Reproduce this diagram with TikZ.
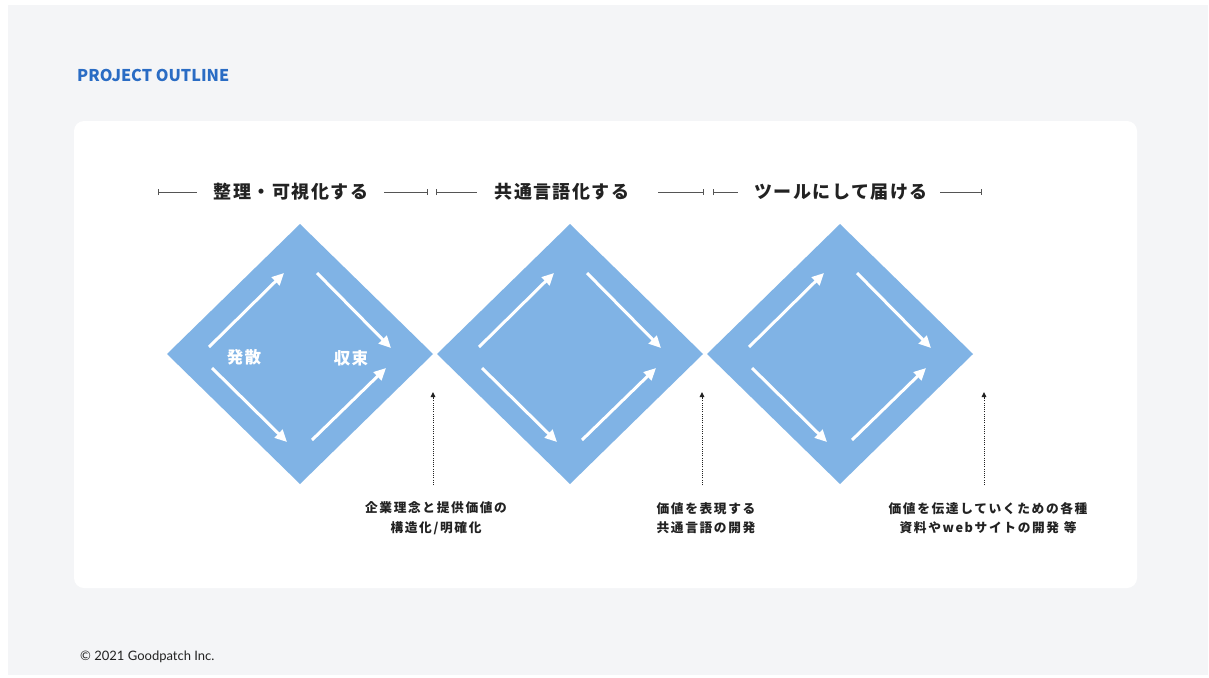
\documentclass[tikz,border=0pt]{standalone}
\usepackage{fontspec}
\setmainfont{Noto Sans CJK JP}
\newfontfamily\jp{Noto Sans CJK JP}
\newfontfamily\footfont{Lato}
\usetikzlibrary{arrows.meta}
\definecolor{bggray}{HTML}{F4F5F7}
\definecolor{dia}{HTML}{80B3E5}
\definecolor{ttl}{HTML}{2A6CC4}
\definecolor{ink}{HTML}{222222}
\definecolor{rulegray}{HTML}{555555}
\begin{document}
\begin{tikzpicture}[x=1pt,y=-1pt,
  flow/.style={draw=white, line width=3pt, -{Triangle[length=12pt,width=11pt]}},
  headtext/.style={font=\jp\bfseries\fontsize{18}{20}\selectfont\addfontfeature{LetterSpace=8}, text=ink, inner sep=0pt},
  phasetext/.style={font=\jp\bfseries\fontsize{16.5}{18}\selectfont\addfontfeature{LetterSpace=8}, text=white, inner sep=0pt},
  notetext/.style={font=\jp\bfseries\fontsize{12.7}{19.5}\selectfont\addfontfeature{LetterSpace=13}, text=ink, inner sep=0pt, align=center},
  halfbar/.style={draw=rulegray, line width=1pt},
  pointer/.style={draw=ink, line width=1pt, dash pattern=on 1pt off 1.2pt, -{Triangle[length=5pt,width=4.5pt]}}
]
\useasboundingbox (0,0) rectangle (1209,677);
\fill[white] (0,0) rectangle (1209,677);
\fill[bggray] (8,5) rectangle (1208,675);
% card
\fill[white, rounded corners=10pt] (74,121) rectangle (1137,588);
% title
\node[anchor=west, inner sep=0pt, text=ttl, font=\jp\bfseries\fontsize{16.2}{18}\selectfont] (title) at (77,75) {PROJECT OUTLINE};
% diamonds and arrows
\foreach \cx/\n in {300/1,570/2,840/3}{
  \fill[dia] (\cx-133,354) -- (\cx,224) -- (\cx+133,354) -- (\cx,484) -- cycle;
  \coordinate (a\n s) at (\cx-91,347); \coordinate (a\n e) at (\cx-16,273);
  \coordinate (b\n s) at (\cx+17,273); \coordinate (b\n e) at (\cx+91,348);
  \coordinate (c\n s) at (\cx-88,368); \coordinate (c\n e) at (\cx-13,442);
  \coordinate (d\n s) at (\cx+12,440); \coordinate (d\n e) at (\cx+86,368);
  \draw[flow] (a\n s) -- (a\n e);
  \draw[flow] (b\n s) -- (b\n e);
  \draw[flow] (c\n s) -- (c\n e);
  \draw[flow] (d\n s) -- (d\n e);
}
\node[phasetext] (diverge) at (244,357) {発散};
\node[phasetext] (converge) at (351,358) {収束};
% headers
\node[headtext] (h1) at (291,192) {整理・可視化する};
\node[headtext] (h2) at (562,192) {共通言語化する};
\node[headtext] (h3) at (841,192) {ツールにして届ける};
\coordinate (t1) at (158,192); \coordinate (t1b) at (197,192);
\coordinate (t2) at (384,192); \coordinate (t2b) at (428,192);
\coordinate (t3) at (436,192); \coordinate (t3b) at (477,192);
\coordinate (t4) at (658,192); \coordinate (t4b) at (704,192);
\coordinate (t5) at (713,192); \coordinate (t5b) at (738,192);
\coordinate (t6) at (940,192); \coordinate (t6b) at (982,192);
\draw[halfbar, {Bar[width=6pt]}-] (t1) -- (t1b);
\draw[halfbar, -{Bar[width=6pt]}] (t2) -- (t2b);
\draw[halfbar, {Bar[width=6pt]}-] (t3) -- (t3b);
\draw[halfbar, -{Bar[width=6pt]}] (t4) -- (t4b);
\draw[halfbar, {Bar[width=6pt]}-] (t5) -- (t5b);
\draw[halfbar, -{Bar[width=6pt]}] (t6) -- (t6b);
% pointers
\coordinate (p1s) at (433,485); \coordinate (p1e) at (433,392);
\coordinate (p2s) at (702,485); \coordinate (p2e) at (702,392);
\coordinate (p3s) at (984,485); \coordinate (p3e) at (984,392);
\draw[pointer] (p1s) -- (p1e);
\draw[pointer] (p2s) -- (p2e);
\draw[pointer] (p3s) -- (p3e);
% notes
\node[notetext] (n1) at (436,518) {企業理念と提供価値の\\構造化/明確化};
\node[notetext] (n2) at (706,518) {価値を表現する\\共通言語の開発};
\node[notetext] (n3) at (988,518) {価値を伝達していくための各種\\資料やwebサイトの開発 等};
% footer
\node[anchor=west, inner sep=0pt, text=ink, font=\footfont\fontsize{13}{15}\selectfont] (foot) at (80,657) {© 2021 Goodpatch Inc.};
\end{tikzpicture}
\end{document}
